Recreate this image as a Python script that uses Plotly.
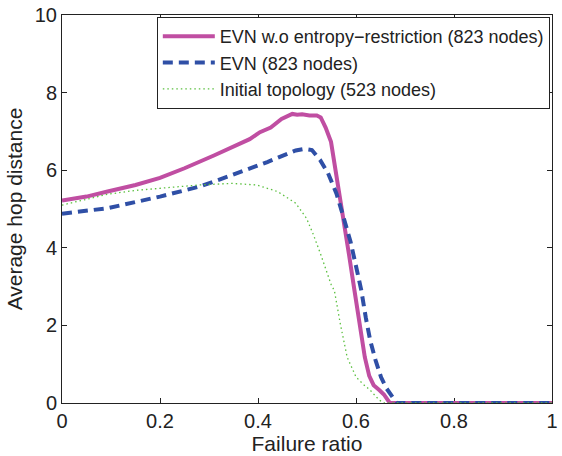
import plotly.graph_objects as go

# Data
evn_wo_x = [0, 0.05, 0.093, 0.15, 0.2, 0.25, 0.31, 0.35, 0.383, 0.404, 0.426, 0.448, 0.47, 0.48, 0.49, 0.505, 0.52,
            0.528, 0.538, 0.549, 0.562, 0.575, 0.586, 0.597, 0.607, 0.618, 0.627, 0.636, 0.648, 0.657, 0.669,
            0.7, 0.8, 0.9, 1.0]
evn_wo_y = [5.22, 5.32, 5.45, 5.62, 5.8, 6.05, 6.38, 6.6, 6.8, 6.98, 7.1, 7.32, 7.45, 7.43, 7.44, 7.41, 7.41,
            7.36, 7.1, 6.73, 5.75, 4.76, 3.8, 2.89, 2.04, 1.18, 0.7, 0.46, 0.33, 0.22, 0.0,
            0, 0, 0, 0]

evn_x = [0, 0.093, 0.2, 0.281, 0.346, 0.419, 0.477, 0.495, 0.51, 0.527, 0.543, 0.56, 0.571, 0.589, 0.604,
         0.611, 0.62, 0.629, 0.64, 0.651, 0.662, 0.673, 0.683, 0.7, 0.8, 0.9, 1.0]
evn_y = [4.88, 5.02, 5.32, 5.58, 5.87, 6.21, 6.51, 6.55, 6.52, 6.26, 5.92, 5.4, 4.94, 4.15, 3.3,
         2.89, 2.2, 1.61, 1.1, 0.67, 0.38, 0.16, 0.0, 0, 0, 0, 0]

init_x = [0, 0.05, 0.093, 0.15, 0.2, 0.281, 0.346, 0.397, 0.44, 0.477, 0.499, 0.513, 0.528, 0.549, 0.556,
          0.568, 0.582, 0.6, 0.615, 0.629, 0.647, 0.657, 0.7, 0.8, 0.9, 1.0]
init_y = [5.1, 5.25, 5.38, 5.48, 5.53, 5.62, 5.66, 5.62, 5.45, 5.15, 4.76, 4.34, 3.83, 3.06, 2.89,
          2.04, 1.18, 0.67, 0.48, 0.33, 0.08, 0.0, 0, 0, 0, 0]

names = ["EVN w.o entropy\u2212restriction (823 nodes)", "EVN (823 nodes)", "Initial topology (523 nodes)"]
x_ticks = [0, 0.2, 0.4, 0.6, 0.8, 1]
x_labels = ["0", "0.2", "0.4", "0.6", "0.8", "1"]
y_ticks = [0, 2, 4, 6, 8, 10]

FONT = "Liberation Sans, Arial"

fig = go.Figure()
fig.add_trace(go.Scatter(x=evn_wo_x, y=evn_wo_y, mode="lines", name=names[0],
                         line=dict(color="#c04ea2", width=4)))
fig.add_trace(go.Scatter(x=evn_x, y=evn_y, mode="lines", name=names[1],
                         line=dict(color="#2f4fa6", width=4, dash="10px,6px")))
fig.add_trace(go.Scatter(x=init_x, y=init_y, mode="lines", name=names[2],
                         line=dict(color="#5cc040", width=1.3, dash="1.5px,3px")))

axis_common = dict(showline=True, linecolor="#222", linewidth=1, mirror="ticks", ticks="inside",
                   ticklen=5, tickcolor="#222", showgrid=False, zeroline=False,
                   tickfont=dict(family=FONT, size=20, color="#222"),
                   ticklabeloverflow="allow",
                   layer="below traces")

fig.update_xaxes(range=[0, 1], tickvals=x_ticks, ticktext=x_labels,
                 title=dict(text="Failure ratio", font=dict(family=FONT, size=21, color="#222"),
                            standoff=0),
                 **axis_common)
fig.update_yaxes(range=[0, 10], tickvals=y_ticks,
                 title=dict(text="Average hop distance", font=dict(family=FONT, size=21, color="#222"),
                            standoff=6),
                 **axis_common)

fig.update_layout(
    width=562, height=456,
    margin=dict(l=62, r=4, t=12, b=53),
    plot_bgcolor="white", paper_bgcolor="white",
    showlegend=True,
    legend=dict(x=0.1935, y=0.995, xanchor="left", yanchor="top",
                bgcolor="white", bordercolor="#222", borderwidth=1,
                font=dict(family=FONT, size=18, color="#222"),
                itemwidth=52, tracegroupgap=0),
)

fig.write_html("out.html")
